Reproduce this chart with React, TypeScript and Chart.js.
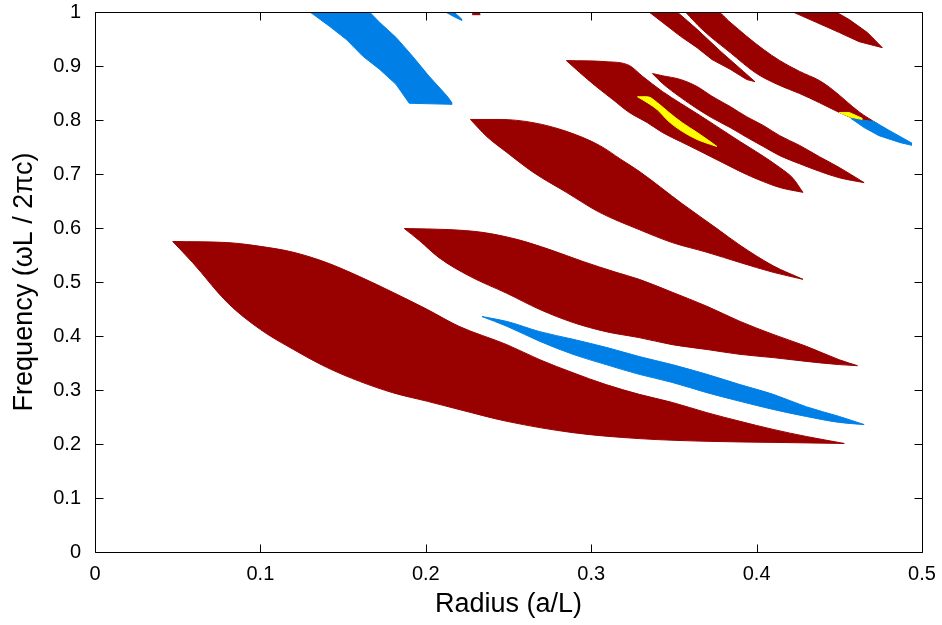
import React, { useEffect, useRef } from 'react';
import { Chart, registerables } from 'chart.js';

Chart.register(...registerables);

const RED = '#990000';
const BLUE = '#0080e6';
const YELLOW = '#ffff00';

// Axis ticks
const X_TICKS = [0, 0.1, 0.2, 0.3, 0.4, 0.5];
const X_TICK_LABELS = ['0', '0.1', '0.2', '0.3', '0.4', '0.5'];
const Y_TICKS = [0, 0.1, 0.2, 0.3, 0.4, 0.5, 0.6, 0.7, 0.8, 0.9, 1];
const Y_TICK_LABELS = ['0', '0.1', '0.2', '0.3', '0.4', '0.5', '0.6', '0.7', '0.8', '0.9', '1'];

// Gap A (red, lowest)
const A_UP_R = [0.047, 0.080, 0.100, 0.120, 0.140, 0.160, 0.180, 0.201, 0.220, 0.249, 0.269, 0.289, 0.309, 0.329, 0.349, 0.370, 0.390, 0.410, 0.430, 0.453];
const A_UP_F = [0.575, 0.573, 0.566, 0.555, 0.536, 0.510, 0.481, 0.449, 0.418, 0.384, 0.356, 0.332, 0.310, 0.292, 0.277, 0.258, 0.242, 0.227, 0.214, 0.201];
const A_LO_R = [0.047, 0.059, 0.080, 0.100, 0.120, 0.140, 0.160, 0.180, 0.201, 0.220, 0.249, 0.289, 0.329, 0.370, 0.410, 0.453];
const A_LO_F = [0.575, 0.536, 0.462, 0.412, 0.375, 0.342, 0.316, 0.295, 0.279, 0.264, 0.242, 0.221, 0.210, 0.205, 0.203, 0.201];

// Gap B (blue, long sliver)
const B_R = [0.234, 0.249, 0.269, 0.289, 0.309, 0.329, 0.349, 0.370, 0.390, 0.410, 0.430, 0.450, 0.465];
const B_UP_F = [0.436, 0.427, 0.408, 0.394, 0.379, 0.362, 0.347, 0.329, 0.310, 0.292, 0.269, 0.251, 0.236];
const B_LO_F = [0.436, 0.418, 0.390, 0.366, 0.347, 0.329, 0.314, 0.295, 0.279, 0.264, 0.251, 0.240, 0.236];

// Gap C (red)
const C_UP_R = [0.187, 0.214, 0.234, 0.255, 0.275, 0.295, 0.315, 0.329, 0.349, 0.370, 0.390, 0.410, 0.430, 0.450, 0.461];
const C_UP_F = [0.599, 0.597, 0.592, 0.579, 0.560, 0.538, 0.518, 0.505, 0.481, 0.455, 0.427, 0.403, 0.381, 0.356, 0.345];
const C_LO_R = [0.187, 0.196, 0.208, 0.227, 0.249, 0.269, 0.289, 0.309, 0.329, 0.349, 0.370, 0.390, 0.410, 0.430, 0.450, 0.461];
const C_LO_F = [0.599, 0.577, 0.545, 0.510, 0.479, 0.449, 0.425, 0.408, 0.397, 0.384, 0.375, 0.366, 0.360, 0.353, 0.347, 0.345];

// Gap D (red)
const D_UP_R = [0.227, 0.245, 0.265, 0.285, 0.305, 0.318, 0.329, 0.355, 0.376, 0.390, 0.410, 0.428];
const D_UP_F = [0.801, 0.801, 0.795, 0.779, 0.753, 0.727, 0.705, 0.645, 0.599, 0.568, 0.530, 0.505];
const D_LO_R = [0.227, 0.237, 0.249, 0.265, 0.285, 0.305, 0.329, 0.349, 0.370, 0.390, 0.410, 0.428];
const D_LO_F = [0.801, 0.769, 0.740, 0.703, 0.666, 0.629, 0.597, 0.573, 0.555, 0.536, 0.518, 0.505];

// Gap E (red, holds yellow sliver)
const E_UP_R = [0.285, 0.309, 0.323, 0.331, 0.343, 0.354, 0.366, 0.378, 0.390, 0.402, 0.414, 0.422, 0.428];
const E_UP_F = [0.910, 0.908, 0.901, 0.881, 0.853, 0.831, 0.808, 0.784, 0.760, 0.737, 0.712, 0.692, 0.666];
const E_LO_R = [0.285, 0.293, 0.303, 0.313, 0.323, 0.334, 0.343, 0.354, 0.364, 0.373, 0.384, 0.394, 0.404, 0.414, 0.428];
const E_LO_F = [0.910, 0.888, 0.862, 0.838, 0.814, 0.795, 0.777, 0.760, 0.745, 0.731, 0.714, 0.699, 0.686, 0.675, 0.666];

// Gap F (red)
const F_R = [0.337, 0.343, 0.354, 0.364, 0.373, 0.384, 0.394, 0.404, 0.414, 0.426, 0.438, 0.450, 0.465];
const F_UP_F = [0.886, 0.882, 0.875, 0.862, 0.844, 0.825, 0.806, 0.790, 0.771, 0.753, 0.732, 0.712, 0.684];
const F_LO_F = [0.886, 0.868, 0.842, 0.821, 0.804, 0.786, 0.768, 0.751, 0.734, 0.719, 0.705, 0.693, 0.684];

// Gap G (red, narrow)
const G_UP_R = [0.335, 0.352, 0.364, 0.379, 0.392, 0.399];
const G_UP_F = [1.0, 1.0, 0.968, 0.925, 0.890, 0.871];
const G_LO_R = [0.335, 0.343, 0.354, 0.364, 0.373, 0.384, 0.394, 0.399];
const G_LO_F = [1.0, 0.981, 0.955, 0.934, 0.912, 0.894, 0.875, 0.871];

// Gap H (red)
const H_UP_R = [0.357, 0.376, 0.384, 0.394, 0.404, 0.414, 0.426, 0.438, 0.446, 0.462, 0.473];
const H_UP_F = [1.0, 1.0, 0.981, 0.955, 0.931, 0.910, 0.890, 0.873, 0.856, 0.815, 0.793];
const H_LO_R = [0.357, 0.367, 0.384, 0.400, 0.414, 0.426, 0.438, 0.450, 0.462, 0.473];
const H_LO_F = [1.0, 0.968, 0.925, 0.886, 0.864, 0.849, 0.832, 0.814, 0.799, 0.793];

// Gap I (red, top right)
const I_UP_R = [0.422, 0.448, 0.456, 0.467, 0.476];
const I_UP_F = [1.0, 1.0, 0.986, 0.962, 0.934];
const I_LO_R = [0.422, 0.436, 0.450, 0.462, 0.476];
const I_LO_F = [1.0, 0.981, 0.962, 0.945, 0.934];

// Small red piece at top
const J_R = [0.228, 0.233];
const J_UP_F = [1.0, 1.0];
const J_LO_F = [0.995, 0.995];

// Blue gap at top left
const K_UP_R = [0.130, 0.166, 0.172, 0.182, 0.192, 0.202, 0.213, 0.216];
const K_UP_F = [1.0, 1.0, 0.981, 0.953, 0.918, 0.881, 0.844, 0.831];
const K_LO_R = [0.130, 0.142, 0.152, 0.162, 0.172, 0.182, 0.190, 0.216];
const K_LO_F = [1.0, 0.973, 0.949, 0.918, 0.894, 0.866, 0.831, 0.829];

// Tiny blue piece at top
const L_UP_R = [0.212, 0.217, 0.222];
const L_UP_F = [1.0, 1.0, 0.986];
const L_LO_R = [0.212, 0.216, 0.222];
const L_LO_F = [1.0, 0.993, 0.984];

// Blue gap at right
const M_UP_R = [0.457, 0.471, 0.480, 0.494];
const M_UP_F = [0.803, 0.797, 0.781, 0.757];
const M_LO_R = [0.457, 0.465, 0.474, 0.487, 0.494];
const M_LO_F = [0.803, 0.786, 0.771, 0.758, 0.753];

// Yellow (complete gap) slivers
const Y1_R = [0.328, 0.334, 0.340, 0.347, 0.355, 0.364, 0.372, 0.376];
const Y1_UP_F = [0.843, 0.843, 0.832, 0.814, 0.795, 0.777, 0.760, 0.751];
const Y1_LO_F = [0.843, 0.832, 0.819, 0.797, 0.779, 0.764, 0.755, 0.751];

const Y2_UP_R = [0.450, 0.456, 0.464];
const Y2_UP_F = [0.814, 0.814, 0.803];
const Y2_LO_R = [0.450, 0.457, 0.464];
const Y2_LO_F = [0.814, 0.805, 0.801];

type Region = { color: string; order: number; smooth: boolean; upR: number[]; upF: number[]; loR: number[]; loF: number[] };

const REGIONS: Region[] = [
  { color: RED, order: 2, smooth: true, upR: A_UP_R, upF: A_UP_F, loR: A_LO_R, loF: A_LO_F },
  { color: RED, order: 2, smooth: true, upR: C_UP_R, upF: C_UP_F, loR: C_LO_R, loF: C_LO_F },
  { color: RED, order: 2, smooth: true, upR: D_UP_R, upF: D_UP_F, loR: D_LO_R, loF: D_LO_F },
  { color: RED, order: 2, smooth: true, upR: E_UP_R, upF: E_UP_F, loR: E_LO_R, loF: E_LO_F },
  { color: RED, order: 2, smooth: true, upR: F_R, upF: F_UP_F, loR: F_R, loF: F_LO_F },
  { color: RED, order: 2, smooth: false, upR: G_UP_R, upF: G_UP_F, loR: G_LO_R, loF: G_LO_F },
  { color: RED, order: 2, smooth: true, upR: H_UP_R, upF: H_UP_F, loR: H_LO_R, loF: H_LO_F },
  { color: RED, order: 2, smooth: false, upR: I_UP_R, upF: I_UP_F, loR: I_LO_R, loF: I_LO_F },
  { color: RED, order: 2, smooth: false, upR: J_R, upF: J_UP_F, loR: J_R, loF: J_LO_F },
  { color: BLUE, order: 1, smooth: true, upR: B_R, upF: B_UP_F, loR: B_R, loF: B_LO_F },
  { color: BLUE, order: 1, smooth: false, upR: K_UP_R, upF: K_UP_F, loR: K_LO_R, loF: K_LO_F },
  { color: BLUE, order: 1, smooth: false, upR: L_UP_R, upF: L_UP_F, loR: L_LO_R, loF: L_LO_F },
  { color: BLUE, order: 1, smooth: false, upR: M_UP_R, upF: M_UP_F, loR: M_LO_R, loF: M_LO_F },
  { color: YELLOW, order: 0, smooth: true, upR: Y1_R, upF: Y1_UP_F, loR: Y1_R, loF: Y1_LO_F },
  { color: YELLOW, order: 0, smooth: false, upR: Y2_UP_R, upF: Y2_UP_F, loR: Y2_LO_R, loF: Y2_LO_F },
];

const pts = (r: number[], f: number[]) => r.map((x, i) => ({ x, y: f[i] }));

const FONT = '"Liberation Sans", Arial, Helvetica, sans-serif';

export default function App() {
  const ref = useRef<HTMLCanvasElement>(null);

  useEffect(() => {
    document.body.style.margin = '0';
    const canvas = ref.current;
    if (!canvas) return;

    const datasets: any[] = [];
    REGIONS.forEach((reg) => {
      const common: any = {
        borderColor: reg.color,
        backgroundColor: reg.color,
        borderWidth: 1,
        pointRadius: 0,
        order: reg.order,
      };
      if (reg.smooth) common.cubicInterpolationMode = 'monotone';
      else common.tension = 0;
      datasets.push({ ...common, data: pts(reg.loR, reg.loF), fill: false });
      datasets.push({ ...common, data: pts(reg.upR, reg.upF), fill: '-1' });
    });

    const frame = {
      id: 'frame',
      afterDatasetsDraw(chart: any) {
        const { ctx, chartArea } = chart;
        const xs = chart.scales.x;
        const ys = chart.scales.y;
        const L = Math.round(chartArea.left) + 0.5;
        const R = Math.round(chartArea.right) + 0.5;
        const T = Math.round(chartArea.top) + 0.5;
        const B = Math.round(chartArea.bottom) + 0.5;
        const TL = 8;
        ctx.save();
        ctx.strokeStyle = '#000';
        ctx.lineWidth = 1;
        ctx.beginPath();
        X_TICKS.forEach((v) => {
          const px = Math.round(xs.getPixelForValue(v)) + 0.5;
          ctx.moveTo(px, B);
          ctx.lineTo(px, B - TL);
          ctx.moveTo(px, T);
          ctx.lineTo(px, T + TL);
        });
        Y_TICKS.forEach((v) => {
          const py = Math.round(ys.getPixelForValue(v)) + 0.5;
          ctx.moveTo(L, py);
          ctx.lineTo(L + TL, py);
          ctx.moveTo(R, py);
          ctx.lineTo(R - TL, py);
        });
        ctx.moveTo(L, T);
        ctx.lineTo(R, T);
        ctx.lineTo(R, B);
        ctx.lineTo(L, B);
        ctx.closePath();
        ctx.stroke();
        ctx.restore();
      },
    };

    const chart = new Chart(canvas, {
      type: 'line',
      data: { datasets },
      options: {
        responsive: false,
        animation: false,
        devicePixelRatio: 1,
        events: [],
        layout: { padding: { left: 0, right: 20, top: 12, bottom: 0 } },
        plugins: { legend: { display: false }, tooltip: { enabled: false } },
        scales: {
          x: {
            type: 'linear',
            min: 0,
            max: 0.5,
            afterBuildTicks: (s: any) => {
              s.ticks = X_TICKS.map((v) => ({ value: v }));
            },
            afterFit: (s: any) => {
              s.height = 73;
              s.paddingLeft = 0;
              s.paddingRight = 0;
            },
            grid: { display: false, drawTicks: false },
            border: { display: false },
            ticks: {
              autoSkip: false,
              maxRotation: 0,
              padding: 10,
              color: '#000',
              font: { family: FONT, size: 20 },
              callback: (_v: any, i: number) => X_TICK_LABELS[i],
            },
            title: {
              display: true,
              text: 'Radius (a/L)',
              color: '#000',
              font: { family: FONT, size: 27 },
              padding: { top: 0, bottom: 4 },
            },
          },
          y: {
            type: 'linear',
            min: 0,
            max: 1,
            afterBuildTicks: (s: any) => {
              s.ticks = Y_TICKS.map((v) => ({ value: v }));
            },
            afterFit: (s: any) => {
              s.width = 95;
              s.paddingTop = 0;
              s.paddingBottom = 0;
            },
            grid: { display: false, drawTicks: false },
            border: { display: false },
            ticks: {
              autoSkip: false,
              padding: 14,
              color: '#000',
              font: { family: FONT, size: 20 },
              callback: (_v: any, i: number) => Y_TICK_LABELS[i],
            },
            title: {
              display: true,
              text: 'Frequency (ωL / 2πc)',
              color: '#000',
              font: { family: FONT, size: 27 },
              padding: { top: 8, bottom: 0 },
            },
          },
        },
      },
      plugins: [frame],
    } as any);

    return () => chart.destroy();
  }, []);

  return <canvas ref={ref} width={942} height={625} style={{ display: 'block' }} />;
}
